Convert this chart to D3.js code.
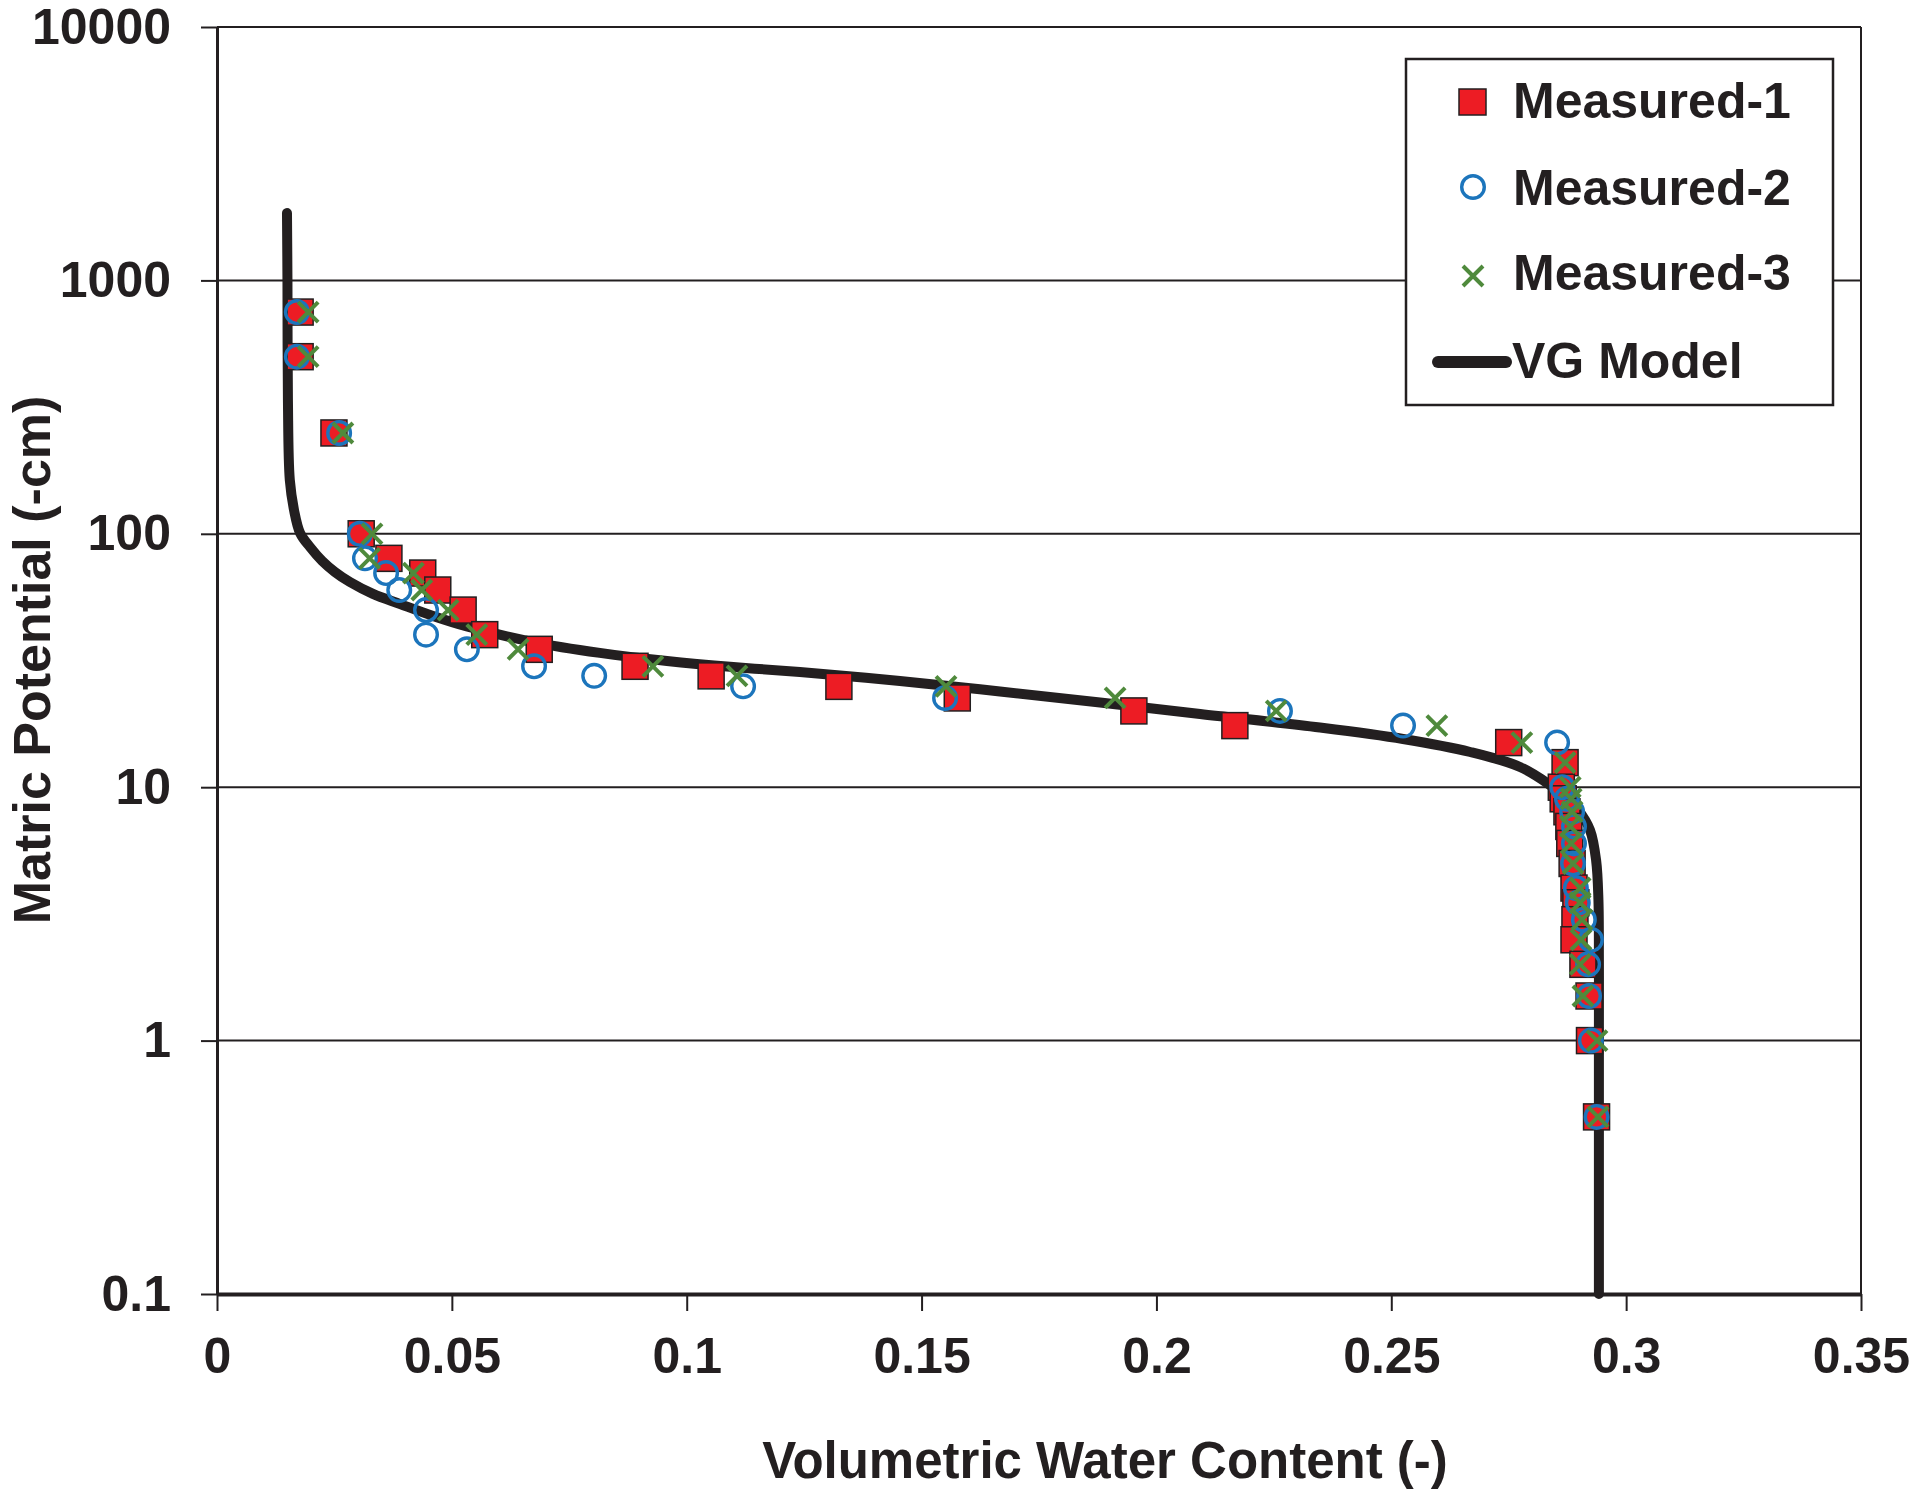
<!DOCTYPE html>
<html><head><meta charset="utf-8">
<script src="https://cdn.jsdelivr.net/npm/d3@7"></script>
<style>html,body{margin:0;padding:0;background:#fff;} svg{display:block;}</style>
</head><body>
<svg id="chart" width="1920" height="1498"></svg>
<script>
// ---------------- DATA ----------------
const xTickVals = [0, 0.05, 0.1, 0.15, 0.2, 0.25, 0.3, 0.35];
const xTickLabels = ["0", "0.05", "0.1", "0.15", "0.2", "0.25", "0.3", "0.35"];
const yTickVals = [0.1, 1, 10, 100, 1000, 10000];
const yTickLabels = ["0.1", "1", "10", "100", "1000", "10000"];

const seriesNames = ["Measured-1", "Measured-2", "Measured-3", "VG Model"];

// Measured-1 (red squares)
const m1H = [750, 500, 250, 100, 80, 70, 60, 50, 40, 35, 30, 27.5, 25, 22.5, 20, 17.5, 15, 12.5, 10, 9, 8, 7, 6, 5, 4, 3.5, 3, 2.5, 2, 1.5, 1, 0.5];
const m1Theta = [0.0177, 0.0177, 0.0249, 0.0307, 0.0366, 0.0438, 0.0470, 0.0524, 0.0570, 0.0686, 0.0890, 0.1052, 0.1324, 0.1576, 0.1952, 0.2167, 0.2750, 0.2870, 0.2862, 0.2866, 0.2874, 0.2878, 0.2880, 0.2885, 0.2889, 0.2893, 0.2891, 0.2889, 0.2908, 0.2921, 0.2922, 0.2937];

// Measured-2 (blue open circles)
const m2H = [750, 500, 250, 100, 80, 70, 60, 50, 40, 35, 30, 27.5, 25, 22.5, 20, 17.5, 15, 10, 9, 8, 7, 6, 5, 4, 3.5, 3, 2.5, 2, 1.5, 1, 0.5];
const m2Theta = [0.0170, 0.0170, 0.0260, 0.0304, 0.0315, 0.0360, 0.0388, 0.0445, 0.0445, 0.0532, 0.0675, 0.0803, 0.1120, 0.1550, 0.2263, 0.2525, 0.2853, 0.2864, 0.2874, 0.2885, 0.2889, 0.2889, 0.2887, 0.2893, 0.2897, 0.2910, 0.2925, 0.2919, 0.2921, 0.2925, 0.2937];

// Measured-3 (green crosses)
const m3H = [750, 500, 250, 100, 80, 70, 60, 50, 40, 35, 30, 27.5, 25, 22.5, 20, 17.5, 15, 12.5, 10, 9, 8, 7, 6, 5, 4, 3.5, 3, 2.5, 2, 1.5, 1, 0.5];
const m3Theta = [0.0194, 0.0194, 0.0268, 0.0330, 0.0325, 0.0418, 0.0436, 0.0492, 0.0553, 0.0641, 0.0928, 0.1107, 0.1552, 0.1912, 0.2255, 0.2597, 0.2778, 0.2870, 0.2881, 0.2883, 0.2885, 0.2881, 0.2883, 0.2887, 0.2902, 0.2902, 0.2906, 0.2904, 0.2902, 0.2908, 0.2938, 0.2940];

// VG Model curve
const vgTheta = [0.0149, 0.0150, 0.0151, 0.0155, 0.0164, 0.0177, 0.0198, 0.0224, 0.0251, 0.0283, 0.0332, 0.0390, 0.0460, 0.0532, 0.0673, 0.0815, 0.0958, 0.1099, 0.1241, 0.1454, 0.1667, 0.1880, 0.2093, 0.2348, 0.2525, 0.2668, 0.2774, 0.2838, 0.2870, 0.2898, 0.2923, 0.2936, 0.2941, 0.2942, 0.2942, 0.2942];
const vgH = [1845, 1000, 337, 163, 124, 100.7, 88.7, 78.1, 70.7, 64.5, 57.9, 52.8, 47.4, 43.1, 37.4, 33.9, 31.5, 29.8, 28.5, 26.25, 23.86, 21.6, 19.45, 17.2, 15.5, 13.77, 12.02, 10.2, 9.15, 8.13, 6.78, 5.16, 3.59, 2.08, 1, 0.1];

// ---------------- CHART ----------------
const W = 1920, H = 1498;
const m = {left: 217, right: 1861, top: 27, bottom: 1294};
const ink = '#231F20';
const font = "'Liberation Sans', Arial, Helvetica, sans-serif";
const cRed = '#ED1C24', cBlue = '#1C75BC', cGreen = '#4F8A3C';

const svg = d3.select('#chart');
svg.append('rect').attr('width', W).attr('height', H).attr('fill', '#fff');

const x = d3.scaleLinear().domain([0, 0.35]).range([m.left, m.right]);
const y = d3.scaleLog().domain([0.1, 10000]).range([m.bottom, m.top]);

// horizontal gridlines
svg.append('g').selectAll('line').data(yTickVals).join('line')
  .attr('x1', m.left).attr('x2', m.right)
  .attr('y1', d => y(d)).attr('y2', d => y(d))
  .attr('stroke', ink).attr('stroke-width', 2);

// right border
svg.append('line').attr('x1', m.right).attr('x2', m.right)
  .attr('y1', m.top).attr('y2', m.bottom)
  .attr('stroke', ink).attr('stroke-width', 2);

// y axis
const gy = svg.append('g').attr('transform', `translate(${m.left},0)`)
  .call(d3.axisLeft(y).tickValues(yTickVals).tickFormat((d, i) => yTickLabels[i])
    .tickSize(16).tickSizeOuter(0).tickPadding(30));
gy.select('.domain').attr('stroke', ink).attr('stroke-width', 3);
gy.selectAll('.tick line').attr('stroke', ink).attr('stroke-width', 2);
gy.selectAll('.tick text').attr('font-family', font).attr('font-size', 50)
  .attr('font-weight', 'bold').attr('fill', ink);

// x axis
const gx = svg.append('g').attr('transform', `translate(0,${m.bottom})`)
  .call(d3.axisBottom(x).tickValues(xTickVals).tickFormat((d, i) => xTickLabels[i])
    .tickSize(17).tickSizeOuter(0).tickPadding(26));
gx.select('.domain').attr('stroke', ink).attr('stroke-width', 4);
gx.selectAll('.tick line').attr('stroke', ink).attr('stroke-width', 2);
gx.selectAll('.tick text').attr('font-family', font).attr('font-size', 50)
  .attr('font-weight', 'bold').attr('fill', ink);

// VG model curve
const vgData = vgTheta.map((t, i) => ({t, h: vgH[i]}));
svg.append('path').datum(vgData)
  .attr('d', d3.line().x(d => x(d.t)).y(d => y(d.h)).curve(d3.curveCatmullRom.alpha(0.5)))
  .attr('fill', 'none').attr('stroke', ink).attr('stroke-width', 10)
  .attr('stroke-linecap', 'round').attr('stroke-linejoin', 'round');

// markers
const sq = 26;
const d1 = m1Theta.map((t, i) => ({t, h: m1H[i]}));
svg.append('g').selectAll('rect').data(d1).join('rect')
  .attr('x', d => x(d.t) - sq / 2).attr('y', d => y(d.h) - sq / 2)
  .attr('width', sq).attr('height', sq)
  .attr('fill', cRed).attr('stroke', ink).attr('stroke-width', 1.5);

const d2 = m2Theta.map((t, i) => ({t, h: m2H[i]}));
svg.append('g').selectAll('circle').data(d2).join('circle')
  .attr('cx', d => x(d.t)).attr('cy', d => y(d.h)).attr('r', 11.3)
  .attr('fill', 'none').attr('stroke', cBlue).attr('stroke-width', 3.4);

const xs = 10;
const d3data = m3Theta.map((t, i) => ({t, h: m3H[i]}));
svg.append('g').selectAll('path').data(d3data).join('path')
  .attr('d', d => {
    const cx = x(d.t), cy = y(d.h);
    return `M${cx - xs},${cy - xs}L${cx + xs},${cy + xs}M${cx - xs},${cy + xs}L${cx + xs},${cy - xs}`;
  })
  .attr('fill', 'none').attr('stroke', cGreen).attr('stroke-width', 4);

// legend
const lg = svg.append('g');
lg.append('rect').attr('x', 1406).attr('y', 59).attr('width', 427).attr('height', 346)
  .attr('fill', '#fff').attr('stroke', ink).attr('stroke-width', 2.5);
const rowBase = [118, 205, 290, 378];
const mx = 1473;
lg.append('rect').attr('x', mx - 14).attr('y', 89).attr('width', 27).attr('height', 26)
  .attr('fill', cRed).attr('stroke', ink).attr('stroke-width', 1.5);
lg.append('circle').attr('cx', mx).attr('cy', 187).attr('r', 11.3)
  .attr('fill', 'none').attr('stroke', cBlue).attr('stroke-width', 3.4);
lg.append('path').attr('d', `M${mx - 10},${276 - 10}L${mx + 10},${276 + 10}M${mx - 10},${276 + 10}L${mx + 10},${276 - 10}`)
  .attr('stroke', cGreen).attr('stroke-width', 4).attr('fill', 'none');
lg.append('line').attr('x1', 1438).attr('x2', 1506).attr('y1', 362).attr('y2', 362)
  .attr('stroke', ink).attr('stroke-width', 12).attr('stroke-linecap', 'round');
lg.selectAll('text').data(seriesNames).join('text')
  .attr('x', (d, i) => i === 3 ? 1512 : 1513)
  .attr('y', (d, i) => rowBase[i])
  .attr('font-family', font).attr('font-size', 50).attr('font-weight', 'bold')
  .attr('fill', ink).text(d => d);

// axis titles
svg.append('text').attr('x', 1105).attr('y', 1478).attr('text-anchor', 'middle')
  .attr('font-family', font).attr('font-size', 51).attr('font-weight', 'bold')
  .attr('fill', ink).text('Volumetric Water Content (-)');
svg.append('text').attr('transform', 'translate(50,660) rotate(-90)').attr('text-anchor', 'middle')
  .attr('font-family', font).attr('font-size', 52).attr('font-weight', 'bold')
  .attr('fill', ink).text('Matric Potential (-cm)');
</script>
</body></html>
